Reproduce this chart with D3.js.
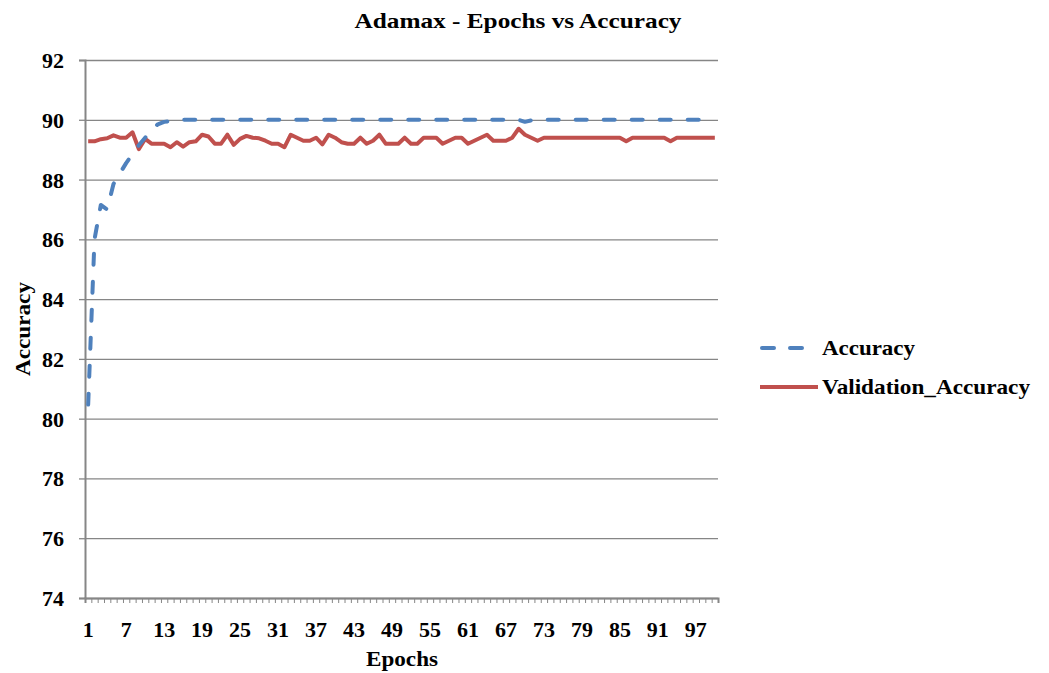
<!DOCTYPE html>
<html>
<head>
<meta charset="utf-8">
<script src="https://cdn.jsdelivr.net/npm/d3@7"></script>
<style>
  body { margin: 0; background: #fff; }
  svg text { font-family: "Liberation Serif", "Times New Roman", serif; font-weight: bold; fill: #000; }
</style>
</head>
<body>
<div id="chart"></div>
<script>

// epochs 1..100
var epochs = d3.range(1, 101);

var accuracy = [80.47, 86.0, 87.15, 87.0, 87.85, 88.2, 88.55, 88.85, 89.15, 89.4,
    89.65, 89.85, 89.93, 89.96, 89.98, 90.0, 90.0, 90.0, 90.0, 90.0,
    90.0, 90.0, 90.0, 90.0, 90.0, 90.0, 90.0, 90.0, 90.0, 90.0,
    90.0, 90.0, 90.0, 90.0, 90.0, 90.0, 90.0, 90.0, 90.0, 90.0,
    90.0, 90.0, 90.0, 90.0, 90.0, 90.0, 90.0, 90.0, 90.0, 90.0,
    90.0, 90.0, 90.0, 90.0, 90.0, 90.0, 90.0, 90.0, 90.0, 90.0,
    90.0, 90.0, 90.0, 90.0, 90.0, 90.0, 90.0, 90.0, 90.0, 89.93,
    89.98, 90.0, 90.0, 90.0, 90.0, 90.0, 90.0, 90.0, 90.0, 90.0,
    90.0, 90.0, 90.0, 90.0, 90.0, 90.0, 90.0, 90.0, 90.0, 90.0,
    90.0, 90.0, 90.0, 90.0, 90.0, 90.0, 90.0, 90.0, 90.0, 90.0];

var valAccuracy = [89.28, 89.28, 89.35, 89.38, 89.48, 89.4, 89.4, 89.58, 89.02, 89.36,
    89.2, 89.2, 89.2, 89.08, 89.25, 89.1, 89.25, 89.28, 89.5, 89.44,
    89.2, 89.2, 89.5, 89.16, 89.36, 89.46, 89.4, 89.38, 89.3, 89.2,
    89.2, 89.08, 89.5, 89.4, 89.3, 89.3, 89.4, 89.18, 89.5, 89.4,
    89.25, 89.2, 89.2, 89.4, 89.2, 89.3, 89.5, 89.2, 89.2, 89.2,
    89.4, 89.2, 89.2, 89.4, 89.4, 89.4, 89.2, 89.3, 89.4, 89.4,
    89.2, 89.3, 89.4, 89.5, 89.3, 89.3, 89.3, 89.4, 89.7, 89.5,
    89.4, 89.3, 89.4, 89.4, 89.4, 89.4, 89.4, 89.4, 89.4, 89.4,
    89.4, 89.4, 89.4, 89.4, 89.4, 89.28, 89.4, 89.4, 89.4, 89.4,
    89.4, 89.4, 89.28, 89.4, 89.4, 89.4, 89.4, 89.4, 89.4, 89.4];

var yTicks = [74, 76, 78, 80, 82, 84, 86, 88, 90, 92];
var xTickLabels = d3.range(1, 101, 6);

var series = [
    {name: "Accuracy", values: accuracy, color: "#4F81BD", dash: "11,17", textLen: 93},
    {name: "Validation_Accuracy", values: valAccuracy, color: "#C0504D", dash: null, textLen: 208}
];

var W = 1049, H = 673;
var margin = {top: 60, right: 331, bottom: 75, left: 85};
var width = W - margin.left - margin.right,
    height = H - margin.top - margin.bottom;

var svg = d3.select("#chart").append("svg")
    .attr("width", W)
    .attr("height", H);

var g = svg.append("g")
    .attr("transform", "translate(" + margin.left + "," + margin.top + ")");

var xScale = d3.scaleBand().domain(epochs).range([0, width]).padding(0);
var xEdge = d3.scaleLinear().domain([0, 100]).range([0, width]);
var yScale = d3.scaleLinear().domain([74, 92]).range([height, 0]);

// gridlines
g.append("g")
    .call(d3.axisLeft(yScale).tickValues(yTicks).tickSize(-width).tickFormat(""))
    .call(function(s) {
        s.select(".domain").remove();
        s.selectAll("line").attr("stroke", "#868686").attr("stroke-width", 1.3);
    });

// y axis
var yAxis = g.append("g")
    .call(d3.axisLeft(yScale).tickValues(yTicks).tickSize(6).tickPadding(15));
yAxis.select(".domain").attr("stroke", "#868686").attr("stroke-width", 2);
yAxis.selectAll("line").attr("stroke", "#868686").attr("stroke-width", 1.3);
yAxis.selectAll("text").style("font-size", "22px").attr("dy", "0.34em");

// x axis small tick marks at category edges
var xTicksG = g.append("g")
    .attr("transform", "translate(0," + height + ")")
    .call(d3.axisBottom(xEdge).tickValues(d3.range(0, 101)).tickSize(5).tickFormat(""));
xTicksG.select(".domain").attr("stroke", "#868686").attr("stroke-width", 2);
xTicksG.selectAll("line").attr("stroke", "#868686").attr("stroke-width", 1);

// x axis labels
var xLab = g.append("g")
    .attr("transform", "translate(0," + height + ")")
    .call(d3.axisBottom(xScale).tickValues(xTickLabels).tickSize(0).tickPadding(23));
xLab.select(".domain").remove();
xLab.selectAll("text").style("font-size", "22px");

// lines
var line = d3.line()
    .x(function(d, i) { return xScale(epochs[i]) + xScale.bandwidth() / 2; })
    .y(function(d) { return yScale(d); })
    .curve(d3.curveLinear);

series.slice().reverse().forEach(function(s) {
    g.append("path")
        .datum(s.values)
        .attr("d", line)
        .attr("fill", "none")
        .attr("stroke", s.color)
        .attr("stroke-width", 4)
        .attr("stroke-linejoin", "round")
        .attr("stroke-linecap", s.dash ? "round" : "butt")
        .attr("stroke-dasharray", s.dash);
});

// titles
svg.append("text")
    .attr("x", 518).attr("y", 28)
    .attr("text-anchor", "middle")
    .attr("textLength", 327).attr("lengthAdjust", "spacingAndGlyphs")
    .style("font-size", "21px")
    .text("Adamax - Epochs vs Accuracy");

svg.append("text")
    .attr("x", 402).attr("y", 666)
    .attr("text-anchor", "middle")
    .attr("textLength", 72).attr("lengthAdjust", "spacingAndGlyphs")
    .style("font-size", "21px")
    .text("Epochs");

svg.append("text")
    .attr("transform", "translate(30," + (margin.top + height / 2) + ") rotate(-90)")
    .attr("text-anchor", "middle")
    .attr("textLength", 94).attr("lengthAdjust", "spacingAndGlyphs")
    .style("font-size", "21px")
    .text("Accuracy");

// legend
var legend = svg.append("g").attr("transform", "translate(760,348)");
series.forEach(function(s, i) {
    var row = legend.append("g").attr("transform", "translate(0," + (i * 39) + ")");
    row.append("line")
        .attr("x1", s.dash ? 2 : 0).attr("x2", s.dash ? 44 : 58)
        .attr("stroke", s.color)
        .attr("stroke-width", 4)
        .attr("stroke-linecap", s.dash ? "round" : "butt")
        .attr("stroke-dasharray", s.dash ? "12,16" : null);
    row.append("text")
        .attr("x", 62).attr("dy", "0.35em")
        .attr("textLength", s.textLen).attr("lengthAdjust", "spacingAndGlyphs")
        .style("font-size", "21px")
        .text(s.name);
});

</script>
</body>
</html>
